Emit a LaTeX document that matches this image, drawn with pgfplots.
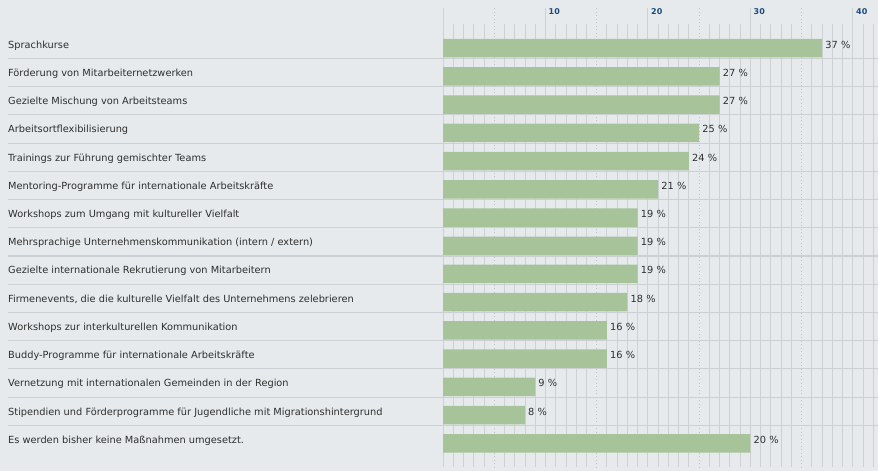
\documentclass[border=0pt]{standalone}
\usepackage{pgfplots}
\pgfplotsset{compat=1.18}
\usepackage{pgfplotstable}
\usepackage{fontspec}
\setmainfont{DejaVu Sans}
\definecolor{bg}{HTML}{E6EAED}
\definecolor{gridcol}{HTML}{CDD1D4}
\definecolor{sepcol}{HTML}{CCD0D3}
\definecolor{barcol}{HTML}{A7C399}
\definecolor{tickblue}{HTML}{1D4C7B}
\definecolor{txt}{HTML}{2E2E2E}
\pgfplotstableread{
val row shown
37 0 37
27 1 27
27 2 27
25 3 25
24 4 24
21 5 21
19 6 19
19 7 19
19 8 19
18 9 18
16 10 16
16 11 16
9 12 9
8 13 8
30 14 20
}\datatable
\begin{document}
\begin{tikzpicture}
\fill[bg] (0,0) rectangle (878bp,471bp);
\begin{axis}[
  at={(443bp,0bp)}, anchor=south west,
  scale only axis, width=435bp, height=471bp,
  xmin=0, xmax=42.44, ymin=-1.708, ymax=14.982, y dir=reverse,
  axis line style={draw=none}, clip=false,
  major tick length=0pt, minor tick length=0pt,
  /pgf/number format/assume math mode=true,
  xtick={10,20,30,40}, xticklabel pos=upper,
  xticklabel style={anchor=west, inner sep=0pt, xshift=3bp, yshift=-11.5bp,
    font=\bfseries\fontsize{8bp}{9bp}\selectfont, text=tickblue},
  ytick={0,...,14},
  yticklabels={{Sprachkurse},{Förderung von Mitarbeiternetzwerken},{Gezielte Mischung von Arbeitsteams},{Arbeitsortflexibilisierung},{Trainings zur Führung gemischter Teams},{Mentoring-Programme für internationale Arbeitskräfte},{Workshops zum Umgang mit kultureller Vielfalt},{Mehrsprachige Unternehmenskommunikation (intern / extern)},{Gezielte internationale Rekrutierung von Mitarbeitern},{Firmenevents, die die kulturelle Vielfalt des Unternehmens zelebrieren},{Workshops zur interkulturellen Kommunikation},{Buddy-Programme für internationale Arbeitskräfte},{Vernetzung mit internationalen Gemeinden in der Region},{Stipendien und Förderprogramme für Jugendliche mit Migrationshintergrund},{Es werden bisher keine Maßnahmen umgesetzt.}},
  yticklabel style={anchor=base west, inner sep=0pt, xshift=-435bp,
    font=\fontsize{9.8bp}{12bp}\selectfont, text=txt},
  xbar, bar width=0.655,
]
\pgfplotsinvokeforeach{1,2,3,4,6,7,8,9,11,12,13,14,16,17,18,19,21,22,23,24,26,27,28,29,31,32,33,34,36,37,38,39,41,42}{
  \draw[gridcol, line width=1bp] (axis cs:#1,-0.8575) -- (axis cs:#1,14.84);}
\pgfplotsinvokeforeach{0,10,20,30,40}{
  \draw[gridcol, line width=1bp] (axis cs:#1,-1.4245) -- (axis cs:#1,14.84);}
\pgfplotsinvokeforeach{5,15,25,35}{
  \draw[gridcol!85!gray, line width=1bp, dash pattern=on 1bp off 2.5bp] (axis cs:#1,-1.4245) -- (axis cs:#1,14.84);}
\pgfplotsinvokeforeach{0.365,1.365,2.365,3.365,4.365,5.365,6.365,7.365,8.365,9.365,10.365,11.365,12.365,13.365}{
  \draw[sepcol, line width=1.1bp] (axis cs:-42.44,#1) -- (axis cs:42.44,#1);}
\addplot[fill=barcol, draw=none, point meta=explicit,
  nodes near coords={\pgfmathprintnumber{\pgfplotspointmeta}~\%},
  nodes near coords style={anchor=base west, inner sep=0pt, xshift=3bp,
    font=\fontsize{9.8bp}{12bp}\selectfont, text=txt}]
  table[x=val, y=row, meta=shown] {\datatable};
\end{axis}
\pgfresetboundingbox
\useasboundingbox (0,0) rectangle (878bp,471bp);
\end{tikzpicture}
\end{document}
